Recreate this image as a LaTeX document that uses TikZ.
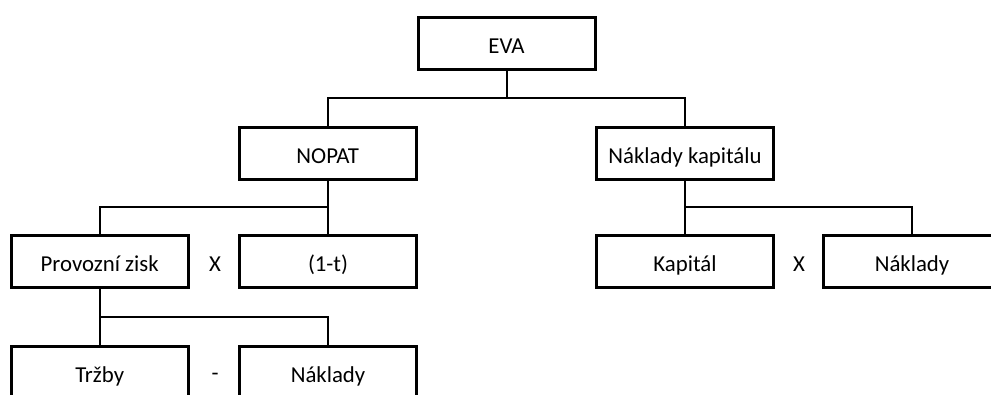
\documentclass[tikz,border=0pt]{standalone}
\usepackage{fontspec}
\setmainfont{Carlito}
\begin{document}
\begin{tikzpicture}[x=1pt,y=-1pt,
  txt/.style={font=\fontsize{22.8}{27}\selectfont,text height=20pt,text depth=0pt},
  box/.style={txt,draw=black,line width=3pt,minimum width=177pt,minimum height=52pt,
    inner sep=0pt,fill=white},
  conn/.style={draw=black,line width=2pt},
  op/.style={txt,inner sep=0pt}]
\fill[white] (0,0) rectangle (991,394);
\clip (0,0) rectangle (991,394);
\useasboundingbox (0,0) rectangle (991,394);

% boxes
\node[box] (eva)   at (506.5,43)   {EVA};
\node[box] (nopat) at (327.7,153)  {NOPAT};
\node[box] (nk)    at (685,153)    {Náklady kapitálu};
\node[box] (pz)    at (99.7,261.5) {Provozní zisk};
\node[box] (tax)   at (328,261.5)  {(1-t)};
\node[box] (kap)   at (685,261.5)  {Kapitál};
\node[box] (nakr)  at (912,261.5)  {Náklady};
\node[box] (trz)   at (99.7,372.5) {Tržby};
\node[box] (nakl)  at (328,372.5)  {Náklady};

% operators
\node[op] (x1) at (215,261.5) {X};
\node[op] (x2) at (799,261.5) {X};
\node[op] (m1) at (215,370.5) {-};

% bus points
\coordinate (b0) at (506.5,98);
\coordinate (b1) at (327.7,206.7);
\coordinate (b2) at (685,207.3);
\coordinate (b3) at (99.7,316.7);

% connectors
\draw[conn] (eva.south) -- (b0);
\draw[conn] (nopat.north) |- (b0) -| (nk.north);
\draw[conn] (nopat.south) -- (b1);
\draw[conn] (tax.north) |- (b1) -| (pz.north);
\draw[conn] (nk.south) -- (b2);
\draw[conn] (kap.north) |- (b2) -| (nakr.north);
\draw[conn] (pz.south) -- (b3);
\draw[conn] (trz.north) |- (b3) -| (nakl.north);
\end{tikzpicture}
\end{document}
